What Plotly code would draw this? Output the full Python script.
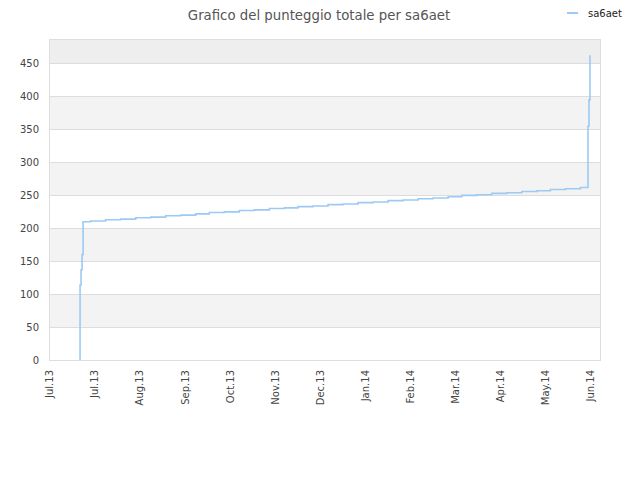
import plotly.graph_objects as go

# ---- data ----
dates = [
    "2013-07-21 00:00", "2013-07-21 00:00", "2013-07-21 16:00", "2013-07-22 08:00", "2013-07-23 00:00",
    "2013-07-28", "2013-08-07", "2013-08-17", "2013-08-27", "2013-09-06", "2013-09-16",
    "2013-09-26", "2013-10-06", "2013-10-15", "2013-10-25", "2013-11-04", "2013-11-14",
    "2013-11-24", "2013-12-04", "2013-12-13", "2013-12-23", "2014-01-02", "2014-01-12",
    "2014-01-22", "2014-02-01", "2014-02-11", "2014-02-21", "2014-03-03", "2014-03-13",
    "2014-03-23", "2014-04-01", "2014-04-11", "2014-04-21", "2014-05-01", "2014-05-11",
    "2014-05-21", "2014-05-30", "2014-06-09", "2014-06-19",
    "2014-06-24 00:00", "2014-06-24 16:00", "2014-06-25 08:00",
]
scores = [
    0, 114, 137, 160, 210,
    211, 213, 214, 216, 217, 219,
    220, 222, 224, 225, 227, 228,
    230, 231, 233, 234, 236, 237,
    239, 240, 242, 243, 245, 246,
    248, 250, 251, 253, 254, 256,
    257, 259, 260, 262,
    355, 395, 463,
]
series_name = "sa6aet"
title_text = "Grafico del punteggio totale per sa6aet"

tick_dates = [
    "2013-07-01", "2013-07-31", "2013-08-30", "2013-09-29", "2013-10-29",
    "2013-11-28", "2013-12-28", "2014-01-27", "2014-02-26", "2014-03-28",
    "2014-04-27", "2014-05-27", "2014-06-26",
]
tick_labels = [
    "Jul.13", "Jul.13", "Aug.13", "Sep.13", "Oct.13", "Nov.13", "Dec.13",
    "Jan.14", "Feb.14", "Mar.14", "Apr.14", "May.14", "Jun.14",
]
y_ticks = [0, 50, 100, 150, 200, 250, 300, 350, 400, 450]
x_range = ["2013-07-01", "2014-07-02"]
y_max = 486

LINE_COLOR = "#9ccaf5"

# ---- figure ----
fig = go.Figure()
fig.add_trace(go.Scatter(
    x=dates, y=scores, name=series_name, mode="lines",
    line=dict(color=LINE_COLOR, width=1.6, shape="hv"),
    showlegend=False,
))

# alternating bands
shapes = []
bounds = y_ticks + [y_max]
for i in range(len(bounds) - 1):
    if i % 2 == 1:
        top_band = (i == len(bounds) - 2)
        shapes.append(dict(
            type="rect", xref="paper", yref="y", x0=0, x1=1,
            y0=bounds[i], y1=bounds[i + 1],
            fillcolor="#eeeeee" if top_band else "#f3f3f3",
            line=dict(width=0), layer="below",
        ))

# compact legend (short line + name) at top right
W, H = 632, 472
L, R, T, B = 42, 40, 32, 120
pw, ph = W - L - R, H - T - B
def px_x(x):  # page pixel -> paper x (page has 8px offset)
    return (x - 8 - L) / pw
def px_y(y):
    return 1 - (y - 8 - T) / ph

shapes.append(dict(type="line", xref="paper", yref="paper",
                   x0=px_x(567), x1=px_x(578), y0=px_y(13), y1=px_y(13),
                   line=dict(color=LINE_COLOR, width=2)))
annotations = [dict(text=series_name, xref="paper", yref="paper",
                    x=px_x(586), y=px_y(13.5), xanchor="left", yanchor="middle",
                    showarrow=False, font=dict(family="DejaVu Sans", size=10, color="#222222"))]

fig.update_layout(
    width=W, height=H,
    margin=dict(l=L, r=R, t=T, b=B),
    paper_bgcolor="white", plot_bgcolor="white",
    font=dict(family="DejaVu Sans", size=10, color="#444444"),
    title=dict(text=title_text, x=(319 - 8) / W, xanchor="center",
               y=1 - 7 / H, yanchor="middle",
               font=dict(family="DejaVu Sans", size=13.3, color="#555555")),
    shapes=shapes,
    annotations=annotations,
    showlegend=False,
    xaxis=dict(
        type="date", range=x_range,
        tickmode="array", tickvals=tick_dates, ticktext=tick_labels,
        tickangle=-90, showgrid=False, zeroline=False,
        showline=True, linecolor="#dddddd", linewidth=1, mirror=True,
        ticks="", ticklabelstandoff=5, tickfont=dict(size=10, color="#444444"),
    ),
    yaxis=dict(
        range=[0, y_max], tickmode="array", tickvals=y_ticks,
        showgrid=True, gridcolor="#dddddd", gridwidth=1, zeroline=False,
        showline=True, linecolor="#dddddd", linewidth=1, mirror=True,
        ticks="", ticklabelstandoff=8, tickfont=dict(size=10, color="#444444"),
    ),
)

fig.write_html("out.html")
